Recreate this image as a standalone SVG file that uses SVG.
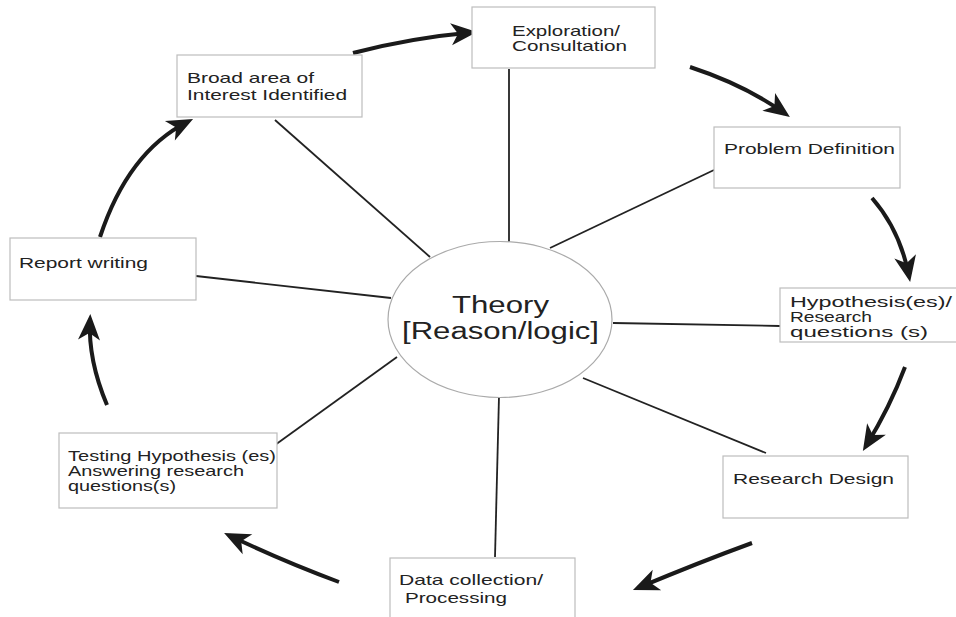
<svg xmlns="http://www.w3.org/2000/svg" width="956" height="617" viewBox="0 0 956 617">
<style>
.box{fill:#fff;stroke:#bdbdbd;stroke-width:1.2}
.t{font-family:"Liberation Sans",Arial,sans-serif;font-size:14.5px;fill:#222}
.big{font-family:"Liberation Sans",Arial,sans-serif;font-size:23px;fill:#222}
.link{stroke:#222;stroke-width:1.8;fill:none}
.arr{stroke:#1a1a1a;stroke-width:4;fill:none;marker-end:url(#ah)}
</style>
<defs>
<marker id="ah" markerUnits="userSpaceOnUse" markerWidth="40" markerHeight="30" viewBox="-30 -15 40 30" refX="-6" refY="0" orient="auto" overflow="visible">
<path d="M0,0 L-26,-11 L-19,0 L-26,11 Z" fill="#1a1a1a"/>
</marker>
</defs>
<rect width="956" height="617" fill="#fff"/>
<g id="connectors">
<line class="link" x1="275" y1="120" x2="430" y2="257"/>
<line class="link" x1="509" y1="69" x2="509" y2="243"/>
<line class="link" x1="714" y1="170" x2="550" y2="248"/>
<line class="link" x1="780" y1="326" x2="613" y2="323"/>
<line class="link" x1="766" y1="453" x2="583" y2="378"/>
<line class="link" x1="495" y1="557" x2="499" y2="396"/>
<line class="link" x1="275" y1="445" x2="397" y2="357"/>
<line class="link" x1="196" y1="276" x2="391" y2="298"/>
<path class="arr" d="M100,237 Q128,152 187.7,121.7"/>
<path class="arr" d="M353,53 Q410,38 471,32.5"/>
<path class="arr" d="M690,67 Q745,85 785,113.5"/>
<path class="arr" d="M872,198 Q900,230 909,276"/>
<path class="arr" d="M905,367 Q890,407 866,446"/>
<path class="arr" d="M752,543 Q700,562 638.5,587.7"/>
<path class="arr" d="M339,582 Q280,560 229.5,535.5"/>
<path class="arr" d="M107,405 Q88,360 90,320"/>
</g>
<g id="theory">
<ellipse cx="500" cy="319.5" rx="112" ry="78" fill="#fff" stroke="#aaa" stroke-width="1.2"/>
<text class="big" x="452" y="313" textLength="97" lengthAdjust="spacingAndGlyphs">Theory</text>
<text class="big" x="402" y="339" textLength="197" lengthAdjust="spacingAndGlyphs">[Reason/logic]</text>
</g>
<g id="broad">
<rect class="box" x="177" y="55" width="185" height="62"/>
<text class="t" x="187" y="83" textLength="127" lengthAdjust="spacingAndGlyphs">Broad area of</text>
<text class="t" x="187" y="100" textLength="160" lengthAdjust="spacingAndGlyphs">Interest Identified</text>
</g>
<g id="exploration">
<rect class="box" x="472" y="7" width="183" height="61"/>
<text class="t" x="512" y="36" textLength="108" lengthAdjust="spacingAndGlyphs">Exploration/</text>
<text class="t" x="512" y="51" textLength="115" lengthAdjust="spacingAndGlyphs">Consultation</text>
</g>
<g id="problem">
<rect class="box" x="714" y="127" width="186" height="61"/>
<text class="t" x="724" y="154" textLength="171" lengthAdjust="spacingAndGlyphs">Problem Definition</text>
</g>
<g id="hypothesis">
<rect class="box" x="780" y="288" width="185" height="54"/>
<text class="t" x="790" y="307" textLength="162" lengthAdjust="spacingAndGlyphs">Hypothesis(es)/</text>
<text class="t" x="790" y="322" textLength="82" lengthAdjust="spacingAndGlyphs">Research</text>
<text class="t" x="790" y="337" textLength="138" lengthAdjust="spacingAndGlyphs">questions (s)</text>
</g>
<g id="design">
<rect class="box" x="723" y="456" width="185" height="62"/>
<text class="t" x="733" y="484" textLength="161" lengthAdjust="spacingAndGlyphs">Research Design</text>
</g>
<g id="data">
<rect class="box" x="390" y="558" width="185" height="70"/>
<text class="t" x="399" y="585" textLength="144" lengthAdjust="spacingAndGlyphs">Data collection/</text>
<text class="t" x="405" y="603" textLength="102" lengthAdjust="spacingAndGlyphs">Processing</text>
</g>
<g id="testing">
<rect class="box" x="59" y="433" width="218" height="75"/>
<text class="t" x="68" y="461" textLength="208" lengthAdjust="spacingAndGlyphs">Testing Hypothesis (es)</text>
<text class="t" x="68" y="476" textLength="176" lengthAdjust="spacingAndGlyphs">Answering research</text>
<text class="t" x="68" y="491" textLength="108" lengthAdjust="spacingAndGlyphs">questions(s)</text>
</g>
<g id="report">
<rect class="box" x="10" y="238" width="186" height="62"/>
<text class="t" x="19" y="268" textLength="129" lengthAdjust="spacingAndGlyphs">Report writing</text>
</g>
</svg>
